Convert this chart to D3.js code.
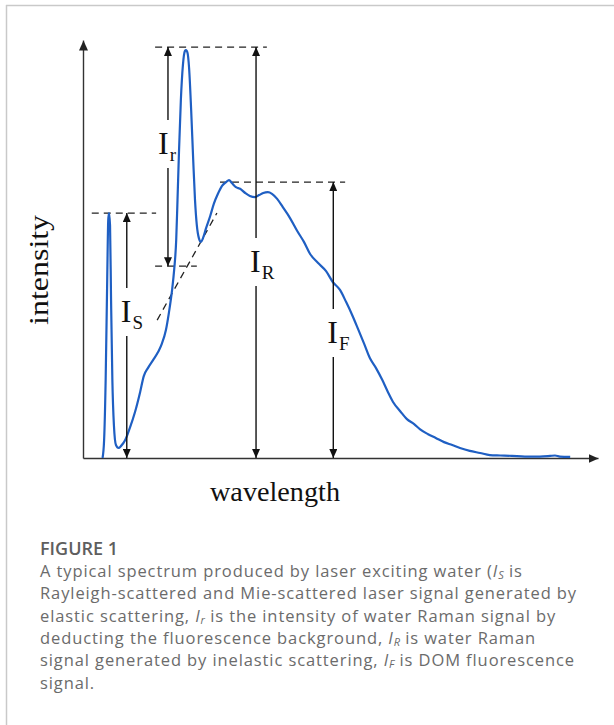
<!DOCTYPE html>
<html>
<head>
<meta charset="utf-8">
<script src="https://cdn.jsdelivr.net/npm/d3@7"></script>
<style>
  html, body { margin: 0; padding: 0; background: #ffffff; }
  svg { display: block; }
</style>
</head>
<body>
<script>
// ---- data (wavelength / intensity in arbitrary normalised units) ----
const wavelength = [3.8, 4.1, 4.4, 4.7, 4.9, 5.05, 5.25, 5.45, 5.7, 6.0, 6.4, 6.9, 7.4, 8.2, 9.1, 10.1, 11.1, 11.8, 12.6, 13.6,
  14.6, 15.3, 16.1, 16.7, 17.3, 17.7, 18.1, 18.35, 18.65, 19.0, 19.4, 19.8, 20.0, 20.3, 20.6, 21.0, 21.4, 21.75, 22.1, 22.5,
  22.9, 23.3, 23.9, 24.7, 25.4, 26.2, 27.0, 27.8, 28.35, 28.9, 29.7, 30.5, 31.5, 32.4, 33.4, 34.2, 35.0, 35.9, 36.7, 37.7,
  38.8, 40.2, 41.6, 42.9, 44.1, 45.6, 47.2, 48.5, 49.9, 51.1, 52.2, 53.4, 54.6, 55.7, 56.9, 58.1, 59.2, 60.2, 61.6, 62.9,
  64.3, 65.4, 67.0, 68.5, 70.1, 71.7, 73.2, 75.1, 77.1, 79.0, 81.0, 83.3, 85.8, 88.7, 90.7, 91.65, 92.6, 94.6];
const intensity = [0, 4.3, 18.7, 42.6, 56.9, 58.6, 55.7, 37.8, 18.7, 7.9, 3.1, 2.4, 2.9, 4.3, 7.2, 11.0, 15.8, 19.6, 21.5, 23.4,
  25.4, 27.3, 30.6, 34.9, 40.2, 45.0, 52.2, 61.7, 73.7, 85.6, 94.0, 97.4, 97.6, 96.9, 93.3, 83.3, 71.3, 61.7, 55.7, 52.6,
  51.7, 52.6, 55.0, 57.9, 60.8, 63.2, 65.1, 66.0, 66.5, 65.8, 64.8, 64.4, 63.4, 62.7, 62.4, 62.9, 63.4, 63.6, 63.2, 62.0,
  60.0, 57.4, 54.3, 51.7, 48.8, 46.7, 44.7, 42.1, 40.2, 37.3, 34.4, 30.9, 27.3, 23.9, 21.5, 18.7, 15.8, 13.4, 11.2, 9.3,
  8.1, 6.9, 5.7, 4.8, 3.8, 3.1, 2.4, 1.7, 1.2, 0.7, 0.6, 0.5, 0.35, 0.35, 0.5, 0.6, 0.35, 0.25];

// dashed guide lines
const guideLevel = [58.6, 98.3, 45.9, 66.0];
const guideStart = [1.7, 14.0, 14.0, 26.6];
const guideEnd   = [14.2, 35.7, 22.1, 50.9];

// fluorescence background tangent under the Raman peak
const tangentX = [14.4, 26.0];
const tangentY = [33.0, 58.6];

// double-headed measurement arrows
const arrowSub    = ["S", "r", "R", "F"];
const arrowX      = [8.5, 16.5, 33.6, 48.6];
const arrowTop    = [58.6, 98.3, 98.3, 66.0];
const arrowBottom = [0, 45.9, 0, 0];
const labelLevel  = [34.9, 75.1, 46.9, 29.9];

const xTitle = "wavelength";
const yTitle = "intensity";
const captionTitle = "FIGURE 1";

// ---- layout ----
const W = 614, H = 725;
const svg = d3.select("body").append("svg").attr("width", W).attr("height", H);

// frame
svg.append("line").attr("x1", 6).attr("x2", W).attr("y1", 5.5).attr("y2", 5.5)
  .attr("stroke", "#c9c9c9").attr("stroke-width", 1.5);
svg.append("line").attr("x1", 6.5).attr("x2", 6.5).attr("y1", 5).attr("y2", H)
  .attr("stroke", "#c9c9c9").attr("stroke-width", 1.5);

const x = d3.scaleLinear().domain([0, 100]).range([83, 598]);
const y = d3.scaleLinear().domain([0, 100]).range([458, 40]);

const defs = svg.append("defs");
function marker(id, color, len, wid) {
  defs.append("marker").attr("id", id)
    .attr("viewBox", `0 0 ${len} ${wid}`)
    .attr("refX", len).attr("refY", wid / 2)
    .attr("markerWidth", len).attr("markerHeight", wid)
    .attr("markerUnits", "userSpaceOnUse")
    .attr("orient", "auto")
    .append("path").attr("d", `M0,0L${len},${wid / 2}L0,${wid}Z`).attr("fill", color);
}
marker("axArrow", "#222", 10, 9);
marker("mArrow", "#111", 9, 8);

// axes (no ticks, arrow heads)
const gx = svg.append("g").attr("transform", `translate(0,${y(0)})`)
  .call(d3.axisBottom(x).tickValues([]).tickSizeOuter(0));
const gy = svg.append("g").attr("transform", `translate(${x(0)},0)`)
  .call(d3.axisLeft(y).tickValues([]).tickSizeOuter(0));
[gx, gy].forEach(g => g.select(".domain")
  .attr("stroke", "#333").attr("stroke-width", 1.4)
  .attr("marker-end", "url(#axArrow)"));

// axis titles
svg.append("text").text(xTitle)
  .attr("x", 275).attr("y", 501)
  .attr("text-anchor", "middle")
  .attr("font-family", "'Liberation Serif', 'DejaVu Serif', serif")
  .attr("font-size", 28).attr("fill", "#111")
  .attr("textLength", 130).attr("lengthAdjust", "spacingAndGlyphs");
svg.append("text").text(yTitle)
  .attr("transform", `translate(48,${y(45)}) rotate(-90)`)
  .attr("text-anchor", "middle")
  .attr("font-family", "'Liberation Serif', 'DejaVu Serif', serif")
  .attr("font-size", 28).attr("fill", "#111")
  .attr("textLength", 110).attr("lengthAdjust", "spacingAndGlyphs");

// dashed guides
svg.append("g").selectAll("line").data(guideLevel).join("line")
  .attr("x1", (d, i) => x(guideStart[i])).attr("x2", (d, i) => x(guideEnd[i]))
  .attr("y1", d => y(d)).attr("y2", d => y(d))
  .attr("stroke", "#222").attr("stroke-width", 1.3).attr("stroke-dasharray", "7,5");
svg.append("line")
  .attr("x1", x(tangentX[0])).attr("y1", y(tangentY[0]))
  .attr("x2", x(tangentX[1])).attr("y2", y(tangentY[1]))
  .attr("stroke", "#222").attr("stroke-width", 1.3).attr("stroke-dasharray", "7,5");

// spectrum
svg.append("path")
  .datum(wavelength.map((w, i) => [w, intensity[i]]))
  .attr("fill", "none").attr("stroke", "#1f5fc3").attr("stroke-width", 2.2)
  .attr("stroke-linejoin", "round")
  .attr("d", d3.line().x(d => x(d[0])).y(d => y(d[1])).curve(d3.curveMonotoneX));

// measurement arrows with labels in a gap
const gapHalf = 24;
const labelDx = [0, -4, 0, 0];
const ag = svg.append("g");
arrowX.forEach((ax, i) => {
  const px = x(ax), cy = y(labelLevel[i]);
  ag.append("line").attr("x1", px).attr("x2", px)
    .attr("y1", cy - gapHalf).attr("y2", y(arrowTop[i]))
    .attr("stroke", "#111").attr("stroke-width", 1.4).attr("marker-end", "url(#mArrow)");
  ag.append("line").attr("x1", px).attr("x2", px)
    .attr("y1", cy + gapHalf).attr("y2", y(arrowBottom[i]))
    .attr("stroke", "#111").attr("stroke-width", 1.4).attr("marker-end", "url(#mArrow)");
  const t = ag.append("text")
    .attr("x", px - 6 + labelDx[i]).attr("y", cy + 10)
    .attr("font-family", "'Liberation Serif', 'DejaVu Serif', serif")
    .attr("fill", "#111");
  t.append("tspan").attr("font-size", 32).text("I");
  t.append("tspan").attr("font-size", 19).attr("dy", 7).attr("dx", 1).text(arrowSub[i]);
});

// caption
const cap = svg.append("g").attr("font-family", "'Open Sans', 'Noto Sans', sans-serif").attr("fill", "#6b6b6b");
cap.append("text").text(captionTitle).attr("x", 40).attr("y", 555)
  .attr("font-size", 18).attr("font-weight", 600).attr("fill", "#5e5e5e");
const capLines = [
  [["A typical spectrum produced by laser exciting water (", 0], ["I", 1], ["S", 2], [" is", 0]],
  [["Rayleigh-scattered and Mie-scattered laser signal generated by", 0]],
  [["elastic scattering, ", 0], ["I", 1], ["r", 2], [" is the intensity of water Raman signal by", 0]],
  [["deducting the fluorescence background, ", 0], ["I", 1], ["R", 2], [" is water Raman", 0]],
  [["signal generated by inelastic scattering, ", 0], ["I", 1], ["F", 2], [" is DOM fluorescence", 0]],
  [["signal.", 0]]
];
capLines.forEach((parts, li) => {
  const t = cap.append("text").attr("x", 40).attr("y", 577 + li * 22.3)
    .attr("font-size", 16.5).attr("letter-spacing", 0.9);
  parts.forEach(([s, kind]) => {
    const ts = t.append("tspan").text(s);
    if (kind === 1) ts.attr("font-style", "italic");
    if (kind === 2) ts.attr("font-style", "italic").attr("font-size", 11).attr("dy", 2).attr("letter-spacing", 0);
    if (kind === 0 && s.startsWith(" ")) ts.attr("dy", -2);
  });
});
</script>
</body>
</html>
